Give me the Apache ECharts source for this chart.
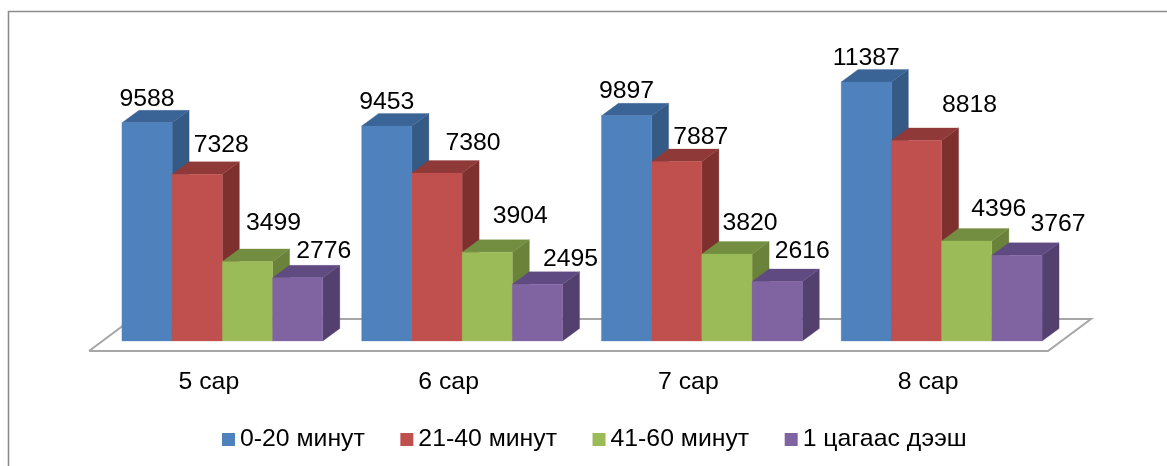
<!DOCTYPE html>
<html><head><meta charset="utf-8">
<style>html,body{margin:0;padding:0;background:#fff}#c{width:1167px;height:466px}</style>
<script src="https://cdn.jsdelivr.net/npm/echarts@6/dist/echarts.min.js"></script>
</head><body><div id="c"></div>
<script>
var categories = ['5 сар','6 сар','7 сар','8 сар'];
var names = ['0-20 минут','21-40 минут','41-60 минут','1 цагаас дээш'];
var v0 = [9588,9453,9897,11387];
var v1 = [7328,7380,7887,8818];
var v2 = [3499,3904,3820,4396];
var v3 = [2776,2495,2616,3767];
var values = [v0,v1,v2,v3];
var front = ['#4F81BD','#C0504D','#9BBB59','#8064A2'];
var side  = ['#355A85','#7E302E','#6A8239','#53406F'];
var topc  = ['#3A6496','#8F3A38','#748E41','#5F4A82'];
// hand placement of each value label relative to the top centre of its bar
var labelNudge = [
 [[0,-24],[0,-24],[0,-25],[0,-24]],
 [[24,-29],[36,-30],[24,-24],[53,-35]],
 [[26,-38],[33,-36],[23,-31],[32,-32]],
 [[26,-27],[33,-25],[25,-30],[41,-31]]
];
var DX=17, DY=12.5, BAR=0.2095;
function poly(pts,fill){return {type:'polygon',shape:{points:pts},style:{fill:fill,stroke:fill,lineWidth:0.3}};}
function renderBar(s){return function(params,api){
  var i=api.value(0), val=api.value(1);
  var c=api.coord([i,val]), b=api.coord([i,0]);
  var w=api.size([1,0])[0]*BAR;
  var x0=c[0]+(s-2)*w, x1=x0+w, yt=c[1], yb=b[1];
  var n=labelNudge[s][i];
  return {type:'group',children:[
    poly([[x1,yt],[x1+DX,yt-DY],[x1+DX,yb-DY],[x1,yb]],side[s]),
    poly([[x0,yt],[x0+DX,yt-DY],[x1+DX,yt-DY],[x1,yt]],topc[s]),
    poly([[x0,yt],[x1,yt],[x1,yb],[x0,yb]],front[s]),
    {type:'text',z2:10,style:{text:String(val),x:(x0+x1)/2+n[0],y:yt+n[1],align:'center',verticalAlign:'middle',
      font:'24.8px "Liberation Sans", Arial, sans-serif',fill:'#000'}}
  ]};
};}
function renderFloor(params,api){
  var cs=params.coordSys, y=cs.y+cs.height, l=cs.x-13.5, r=cs.x+cs.width-13.5;
  return {type:'polyline',shape:{points:[[l,y+10],[r,y+10],[r+43,y-22],[l+43,y-22],[l,y+10]]},
    style:{fill:'#fff',stroke:'#A6A6A6',lineWidth:2}};
}
var series=[{type:'custom',silent:true,renderItem:renderFloor,data:[[0,0]],z:1,legendHoverLink:false,tooltip:{show:false}}];
names.forEach(function(n,s){
  series.push({name:n,type:'custom',z:2+s,itemStyle:{color:front[s]},renderItem:renderBar(s),
    encode:{x:0,y:1},data:values[s].map(function(v,i){return [i,v];})});
});
var chart=echarts.init(document.getElementById('c'),null,{renderer:'canvas'});
chart.setOption({
  animation:false,backgroundColor:'#fff',
  graphic:[{type:'polyline',silent:true,shape:{points:[[8.5,466],[8.5,11.5],[1167,11.5]]},style:{fill:'none',stroke:'#8C8C8C',lineWidth:1.6}}],
  grid:{left:102.5,width:959,top:68,bottom:125,containLabel:false},
  xAxis:{type:'category',data:categories,axisLine:{show:false},axisTick:{show:false},
    axisLabel:{margin:29,padding:[0,27,0,0],fontSize:24.8,color:'#000',fontFamily:'"Liberation Sans", Arial, sans-serif'}},
  yAxis:{type:'value',min:0,max:12000,show:false},
  legend:{left:217,top:422,itemWidth:13,itemHeight:13,itemGap:35.5,icon:'rect',data:names,
    textStyle:{fontSize:24.8,color:'#000',fontFamily:'"Liberation Sans", Arial, sans-serif'}},
  series:series
});
</script></body></html>
